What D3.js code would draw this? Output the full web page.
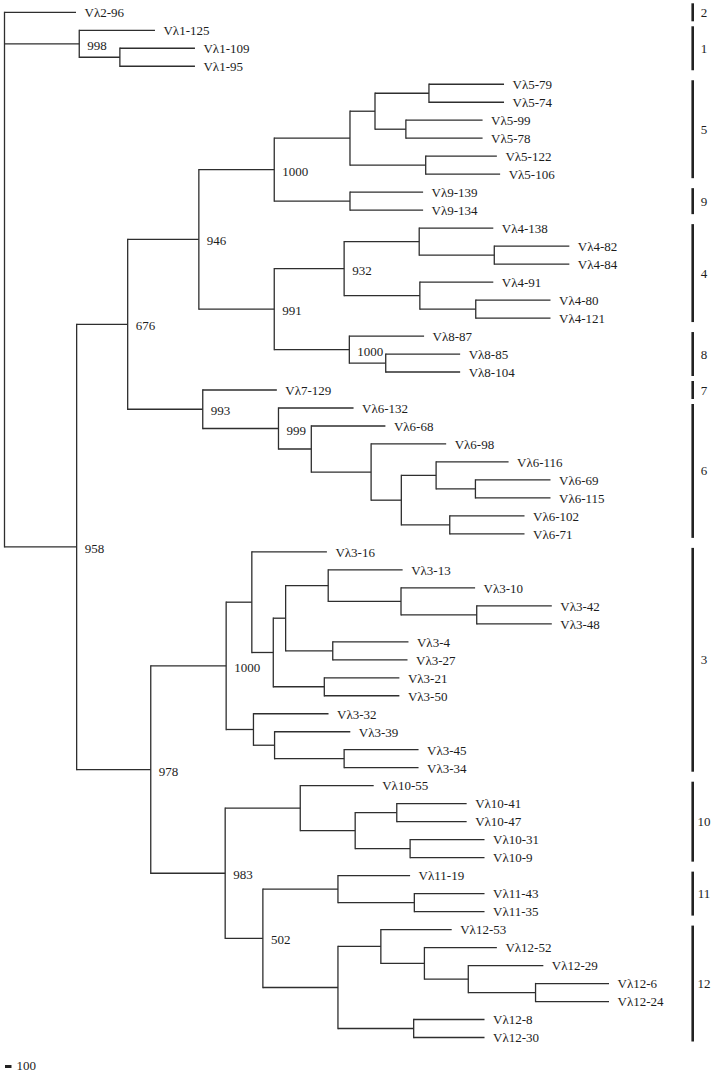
<!DOCTYPE html>
<html>
<head>
<meta charset="utf-8">
<script src="https://cdn.jsdelivr.net/npm/d3@7"></script>
<style>
  html, body { margin: 0; padding: 0; background: #fff; }
  svg { display: block; }
  text { font-family: "Liberation Serif", "Times New Roman", serif; fill: #1c1c1c; }
</style>
</head>
<body>
<svg id="chart" width="716" height="1074"></svg>
<script>
// ---- Data (branch lengths in tree units, internal labels = bootstrap support) ----
const clade1  = "(Vλ1-125:1165,(Vλ1-109:1155,Vλ1-95:1155):625)998:1150";
const clade5  = "(((Vλ5-79:1155,Vλ5-74:1155):830,(Vλ5-99:1180,Vλ5-78:1180):475):385,(Vλ5-122:1095,Vλ5-106:1145):1165):1165";
const clade9  = "(Vλ9-139:1125,Vλ9-134:1125):1165";
const clade4  = "((Vλ4-138:1140,(Vλ4-82:1155,Vλ4-84:1155):1155):1155,(Vλ4-91:1130,(Vλ4-80:1150,Vλ4-121:1150):860):1165)932:1075";
const clade8  = "(Vλ8-87:1150,(Vλ8-85:1145,Vλ8-104:1145):560)1000:1155";
const clade76 = "(Vλ7-129:1140,(Vλ6-132:1155,(Vλ6-68:1140,(Vλ6-98:1155,((Vλ6-116:1115,(Vλ6-69:1155,Vλ6-115:1155):605):535,(Vλ6-102:1150,Vλ6-71:1150):745):465):920):505)999:1165)993:1155";
const clade3  = "((Vλ3-16:1155,(((Vλ3-13:1145,(Vλ3-10:1140,(Vλ3-42:1155,Vλ3-48:1155):1165):1120):655,(Vλ3-4:1165,Vλ3-27:1150):725):190,(Vλ3-21:1155,Vλ3-50:1155):785):330):395,(Vλ3-32:1155,(Vλ3-39:1165,(Vλ3-45:1145,Vλ3-34:1145):1070):325):420)1000:1160";
const clade10 = "(Vλ10-55:1130,((Vλ10-41:1075,Vλ10-47:1075):640,(Vλ10-31:1145,Vλ10-9:1145):845):845):1155";
const clade11 = "(Vλ11-19:1110,(Vλ11-43:1080,Vλ11-35:1080):1175):1155";
const clade12 = "((Vλ12-53:1090,(Vλ12-52:1115,(Vλ12-29:1155,(Vλ12-6:1130,Vλ12-24:1130):1035):675):670):660,(Vλ12-8:1090,Vλ12-30:1090):1165):1155";

const n1000a = "(" + clade5 + "," + clade9 + ")1000:1160";
const n991   = "(" + clade4 + "," + clade8 + ")991:1160";
const n946   = "(" + n1000a + "," + n991 + ")946:1095";
const n676   = "(" + n946 + "," + clade76 + ")676:785";
const n502   = "(" + clade11 + "," + clade12 + ")502:580";
const n983   = "(" + clade10 + "," + n502 + ")983:1145";
const n978   = "(" + clade3 + "," + n983 + ")978:1140";
const n958   = "(" + n676 + "," + n978 + ")958:1110";
const newick = "(Vλ2-96:1100," + clade1 + "," + n958 + ");";

const groupNames = ["2", "1", "5", "9", "4", "8", "7", "6", "3", "10", "11", "12"];
const groupFirst = ["Vλ2-96", "Vλ1-125", "Vλ5-79", "Vλ9-139", "Vλ4-138", "Vλ8-87", "Vλ7-129", "Vλ6-132", "Vλ3-16", "Vλ10-55", "Vλ11-19", "Vλ12-53"];
const groupLast  = ["Vλ2-96", "Vλ1-95", "Vλ5-106", "Vλ9-134", "Vλ4-121", "Vλ8-104", "Vλ7-129", "Vλ6-71", "Vλ3-34", "Vλ10-9", "Vλ11-35", "Vλ12-30"];

const scaleBarValue = 100;

// ---- Newick parser ----
function parseNewick(s) {
  let i = 0;
  function node() {
    const n = { children: [] };
    if (s[i] === "(") {
      i++;
      n.children.push(node());
      while (s[i] === ",") { i++; n.children.push(node()); }
      i++; // ')'
    }
    let name = "";
    while (i < s.length && !":,);".includes(s[i])) name += s[i++];
    n.name = name;
    n.length = 0;
    if (s[i] === ":") {
      i++;
      let num = "";
      while (i < s.length && !",);".includes(s[i])) num += s[i++];
      n.length = +num;
    }
    return n;
  }
  return node();
}

const root = d3.hierarchy(parseNewick(newick), d => d.children);
root.eachBefore(d => { d.dist = d.parent ? d.parent.dist + d.data.length : 0; });
const leaves = root.leaves();

// ---- Scales ----
const x = d3.scaleLinear().domain([0, 9300]).range([4.5, 4.5 + 9300 * 0.065]);
const y = d3.scaleLinear().domain([0, leaves.length - 1]).range([12.3, 1037.5]);

leaves.forEach((d, i) => { d.py = y(i); });
root.eachAfter(d => {
  if (d.children) d.py = (d.children[0].py + d.children[d.children.length - 1].py) / 2;
});
root.each(d => { d.px = x(d.dist); });

const svg = d3.select("#chart");
svg.append("rect").attr("width", 716).attr("height", 1074).attr("fill", "#fff");

const g = svg.append("g");
const stroke = "#2e2e2e";

// horizontal branches
g.selectAll("line.h")
  .data(root.descendants().filter(d => d.parent))
  .join("line")
  .attr("class", "h")
  .attr("x1", d => d.parent.px).attr("x2", d => d.px)
  .attr("y1", d => d.py).attr("y2", d => d.py)
  .attr("stroke", stroke).attr("stroke-width", 1.3);

// vertical connectors
g.selectAll("line.v")
  .data(root.descendants().filter(d => d.children))
  .join("line")
  .attr("class", "v")
  .attr("x1", d => d.px).attr("x2", d => d.px)
  .attr("y1", d => d.children[0].py - 0.65)
  .attr("y2", d => d.children[d.children.length - 1].py + 0.65)
  .attr("stroke", stroke).attr("stroke-width", 1.3);

// leaf labels
g.selectAll("text.leaf")
  .data(leaves)
  .join("text")
  .attr("class", "leaf")
  .attr("x", d => d.px + 8.5)
  .attr("y", d => d.py + 4.8)
  .attr("font-size", 13)
  .text(d => d.data.name);

// bootstrap labels
g.selectAll("text.boot")
  .data(root.descendants().filter(d => d.children && d.data.name))
  .join("text")
  .attr("class", "boot")
  .attr("x", d => d.px + 8)
  .attr("y", d => d.py + 6)
  .attr("font-size", 13)
  .text(d => d.data.name);

// group bars
const leafY = new Map(leaves.map(d => [d.data.name, d.py]));
const groups = groupNames.map((name, i) => {
  let y1 = leafY.get(groupFirst[i]) - 4;
  let y2 = leafY.get(groupLast[i]) + 4;
  if (groupFirst[i] === groupLast[i]) { y1 -= 5; y2 += 5; }
  return { name, y1, y2 };
});
const barX = 692.7;
g.selectAll("line.grp")
  .data(groups)
  .join("line")
  .attr("class", "grp")
  .attr("x1", barX).attr("x2", barX)
  .attr("y1", d => d.y1).attr("y2", d => d.y2)
  .attr("stroke", "#222").attr("stroke-width", 2.6);
g.selectAll("text.grp")
  .data(groups)
  .join("text")
  .attr("class", "grp")
  .attr("x", 704)
  .attr("y", d => (d.y1 + d.y2) / 2 + 4.5)
  .attr("text-anchor", "middle")
  .attr("font-size", 13)
  .text(d => d.name);

// scale bar
const sbY = 1066.5;
g.append("line")
  .attr("x1", x(0) + 0.5).attr("x2", x(scaleBarValue) + 0.5)
  .attr("y1", sbY).attr("y2", sbY)
  .attr("stroke", "#222").attr("stroke-width", 3);
g.append("text")
  .attr("x", 16.5).attr("y", sbY + 3.5)
  .attr("font-size", 13)
  .text(scaleBarValue);
</script>
</body>
</html>
